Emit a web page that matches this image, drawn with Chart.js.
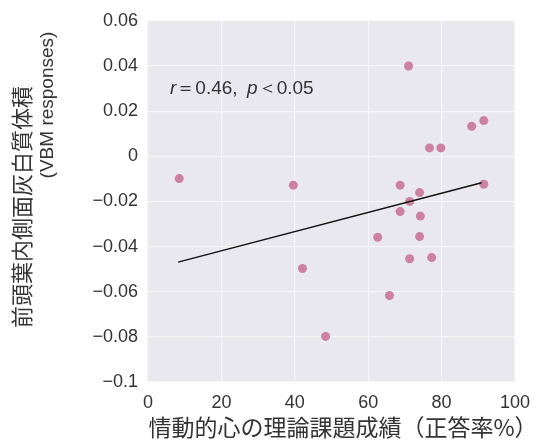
<!DOCTYPE html>
<html>
<head>
<meta charset="utf-8">
<script src="https://cdn.jsdelivr.net/npm/chart.js@4/dist/chart.umd.min.js"></script>
<style>
  html, body { margin: 0; padding: 0; background: #fff; }
  #wrap { width: 540px; height: 441px; position: relative; }
</style>
</head>
<body>
<div id="wrap"><canvas id="chart"></canvas></div>
<script>
// ── Data ─────────────────────────────────────────────────────────────────────

const scoreX = [71.0, 88.2, 91.5, 76.7, 79.8, 8.5, 39.6, 68.7, 74.0, 91.5,
                71.3, 68.7, 74.2, 74.0, 62.6, 71.3, 77.3, 42.1, 65.8, 48.4];
const volumeY = [0.040, 0.0133, 0.0158, 0.0037, 0.0037, -0.0099, -0.0128, -0.0128, -0.0161, -0.0124,
                 -0.020, -0.0245, -0.0265, -0.0356, -0.0359, -0.0454, -0.0449, -0.0497, -0.0617, -0.0798];

const fitX = [8.2, 90.9];
const fitY = [-0.0469, -0.0117];

const xTicks      = [0, 20, 40, 60, 80, 100];
const yTicks      = [0.06, 0.04, 0.02, 0, -0.02, -0.04, -0.06, -0.08, -0.1];
const yTickLabels = ['0.06', '0.04', '0.02', '0', '\u22120.02', '\u22120.04', '\u22120.06', '\u22120.08', '\u22120.1'];

const xTitle  = '情動的心の理論課題成績（正答率%）';
const yTitle1 = '前頭葉内側面灰白質体積';
const yTitle2 = '(VBM responses)';

const TEXT = '#333333';
const LATIN = '"Liberation Sans", Arial, sans-serif';
const CJK   = '"Noto Sans CJK JP", sans-serif';

// ── Plugins ──────────────────────────────────────────────────────────────────

const plotBg = {
  id: 'plotBg',
  beforeDraw(chart) {
    const { ctx, chartArea: a } = chart;
    ctx.save();
    ctx.fillStyle = '#e9e8ee';
    ctx.fillRect(a.left, a.top, a.right - a.left, a.bottom - a.top);
    ctx.restore();
  }
};

const labels = {
  id: 'labels',
  afterDraw(chart) {
    const { ctx, scales } = chart;
    ctx.save();
    ctx.fillStyle = TEXT;
    ctx.textBaseline = 'middle';

    // x title
    ctx.font = '23px ' + CJK;
    ctx.textAlign = 'center';
    ctx.fillText(xTitle, 343, 427);

    // y title (two lines, rotated)
    ctx.save();
    ctx.translate(22, 207);
    ctx.rotate(-Math.PI / 2);
    ctx.font = '22px ' + CJK;
    ctx.fillText(yTitle1, 0, 0);
    ctx.restore();

    ctx.save();
    ctx.translate(48, 105);
    ctx.rotate(-Math.PI / 2);
    ctx.font = '19px ' + LATIN;
    ctx.fillText(yTitle2, 0, 0);
    ctx.restore();

    // annotation r = 0.46, p < 0.05
    const parts = [
      ['r', 'italic 19px ' + LATIN],
      ['\uFF1D0.46,\u2002', '19px ' + LATIN],
      ['p', 'italic 19px ' + LATIN],
      ['\uFF1C0.05', '19px ' + LATIN],
    ];
    let x = scales.x.getPixelForValue(6);
    const y = scales.y.getPixelForValue(0.0298);
    ctx.textAlign = 'left';
    for (const [t, f] of parts) {
      ctx.font = f;
      ctx.fillText(t, x, y);
      x += ctx.measureText(t).width;
    }
    ctx.restore();
  }
};

// ── Chart ────────────────────────────────────────────────────────────────────

new Chart(document.getElementById('chart'), {
  type: 'scatter',
  data: {
    datasets: [
      {
        data: scoreX.map((x, i) => ({ x, y: volumeY[i] })),
        backgroundColor: '#cc819f',
        borderWidth: 0,
        pointRadius: 4.5,
        order: 2,
      },
      {
        type: 'line',
        data: fitX.map((x, i) => ({ x, y: fitY[i] })),
        borderColor: '#111',
        borderWidth: 1.5,
        pointRadius: 0,
        fill: false,
        order: 1,
      },
    ],
  },
  options: {
    responsive: true,
    maintainAspectRatio: false,
    animation: false,
    layout: { padding: { top: 19, right: 23, left: 0, bottom: 0 } },
    plugins: {
      legend: { display: false },
      tooltip: { enabled: false },
    },
    scales: {
      x: {
        type: 'linear',
        min: 0, max: 100,
        afterBuildTicks: s => { s.ticks = xTicks.map(v => ({ value: v })); },
        afterFit: s => { s.height = 59; },
        grid: { color: '#f6f6f8', lineWidth: 1.2, drawTicks: false },
        border: { display: false },
        ticks: {
          padding: 10,
          color: TEXT,
          font: { family: LATIN, size: 18 },
          maxRotation: 0,
        },
      },
      y: {
        type: 'linear',
        min: -0.1, max: 0.06,
        afterBuildTicks: s => { s.ticks = yTicks.slice().reverse().map(v => ({ value: v })); },
        afterFit: s => { s.width = 148; },
        grid: { color: '#f6f6f8', lineWidth: 1.2, drawTicks: false },
        border: { display: false },
        ticks: {
          padding: 10,
          color: TEXT,
          font: { family: LATIN, size: 18 },
          callback: v => {
            const k = yTicks.findIndex(t => Math.abs(t - v) < 1e-9);
            return k >= 0 ? yTickLabels[k] : '';
          },
        },
      },
    },
  },
  plugins: [plotBg, labels],
});
</script>
</body>
</html>
